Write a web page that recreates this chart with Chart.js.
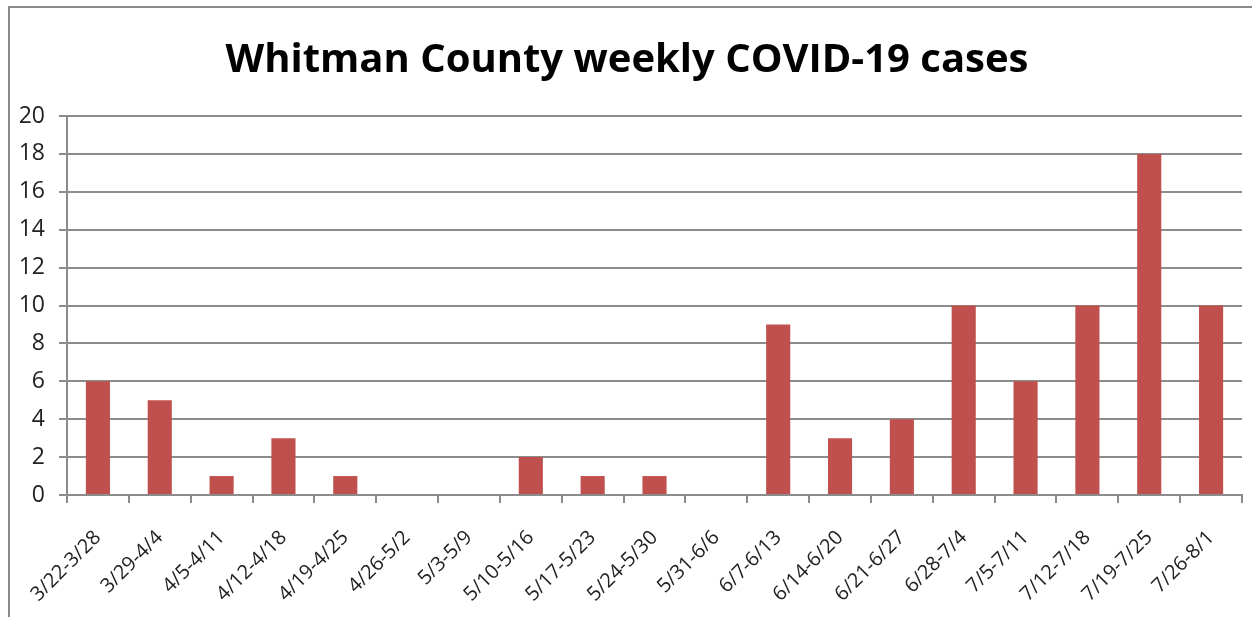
<!DOCTYPE html>
<html>
    <head>
        <meta charset="UTF-8">
        <title>Whitman County weekly COVID-19 cases</title>
        <script src="https://cdn.jsdelivr.net/npm/chart.js@4/dist/chart.umd.min.js"></script>
        <style>
            body { margin: 0; background: #fff; }
            #caja { position: relative; width: 1252px; height: 617px; }
            #marco { position: absolute; left: 8px; top: 6px; right: 0; bottom: 0;
                     border-left: 2px solid #8a8a8a; border-top: 2px solid #8a8a8a; }
        </style>
    </head>
    <body>
        <div id="caja">
            <div id="marco"></div>
            <canvas id="grafica" width="1252" height="617"></canvas>
        </div>

        <script type="text/javascript">
        // semanas y casos
        var semanas = ["3/22-3/28","3/29-4/4","4/5-4/11","4/12-4/18","4/19-4/25","4/26-5/2",
                       "5/3-5/9","5/10-5/16","5/17-5/23","5/24-5/30","5/31-6/6","6/7-6/13",
                       "6/14-6/20","6/21-6/27","6/28-7/4","7/5-7/11","7/12-7/18","7/19-7/25","7/26-8/1"];
        var casos = [6,5,1,3,1,0,0,2,1,1,0,9,3,4,10,6,10,18,10];
        var yMin = 0, yMax = 20, yPaso = 2;

        var fuente = "'Open Sans', 'DejaVu Sans', sans-serif";
        var gris = "#8c8c8c";

        let miCanvas = document.getElementById('grafica').getContext("2d");

        var chart = new Chart(miCanvas, {
            type: 'bar',
            data: {
                labels: semanas,
                datasets: [{
                    label: "Casos",
                    data: casos,
                    backgroundColor: "#C0504D",
                    barPercentage: 0.39,
                    categoryPercentage: 1.0
                }]
            },
            options: {
                responsive: false,
                animation: false,
                layout: { padding: { top: 0, right: 10, left: 12, bottom: 0 } },
                plugins: {
                    legend: { display: false },
                    tooltip: { enabled: false },
                    title: {
                        display: true,
                        text: "Whitman County weekly COVID-19 cases",
                        color: "#000",
                        font: { family: fuente, size: 40, weight: 'bold' },
                        padding: { top: 37, bottom: 31 }
                    }
                },
                scales: {
                    x: {
                        afterFit: function(eje) { eje.height = 122; },
                        grid: { display: true, drawOnChartArea: false, color: gris, lineWidth: 2, tickLength: 8, offset: true },
                        border: { color: gris, width: 2 },
                        ticks: { color: "#222", font: { family: fuente, size: 20 }, minRotation: 45, maxRotation: 45, padding: 23, autoSkip: false }
                    },
                    y: {
                        min: yMin,
                        max: yMax,
                        afterFit: function(eje) { eje.width = 55; },
                        grid: { color: gris, lineWidth: 2, tickLength: 8 },
                        border: { color: gris, width: 2 },
                        ticks: { stepSize: yPaso, color: "#222", font: { family: fuente, size: 23 }, padding: 14 }
                    }
                }
            }
        });
        </script>
    </body>
</html>
